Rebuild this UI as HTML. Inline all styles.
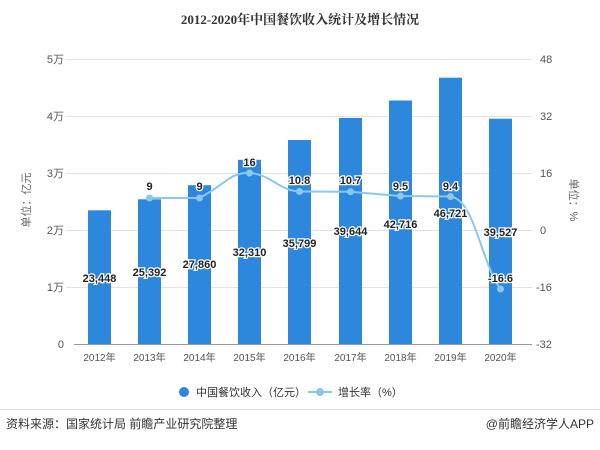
<!DOCTYPE html>
<html><head><meta charset="utf-8"><style>
body{margin:0;width:600px;height:445px;background:#fff;overflow:hidden}
svg text{font-family:"Liberation Sans","Noto Sans CJK SC",sans-serif}
</style></head><body>
<svg width="600" height="445" viewBox="0 0 600 445">
<text x="300" y="24" text-anchor="middle" font-size="13" font-weight="bold" fill="#333" style="font-family:'Liberation Serif','Noto Serif CJK SC',serif">2012-2020年中国餐饮收入统计及增长情况</text>
<g stroke="#e3e3e3" stroke-width="1">
<line x1="66" y1="59.5" x2="532" y2="59.5"/><line x1="66" y1="116.5" x2="532" y2="116.5"/>
<line x1="66" y1="173.5" x2="532" y2="173.5"/><line x1="66" y1="230.5" x2="532" y2="230.5"/>
<line x1="66" y1="287.5" x2="532" y2="287.5"/></g>
<line x1="74" y1="344.5" x2="532" y2="344.5" stroke="#999"/>
<g font-size="11" fill="#555" text-anchor="end">
<text x="64" y="63">5万</text><text x="64" y="120">4万</text><text x="64" y="177">3万</text>
<text x="64" y="234">2万</text><text x="64" y="291">1万</text><text x="64" y="348">0</text></g>
<g font-size="11" fill="#555" text-anchor="start">
<text x="540" y="63">48</text><text x="540" y="120">32</text><text x="540" y="177">16</text>
<text x="540" y="234">0</text><text x="536" y="291">-16</text><text x="536" y="348">-32</text></g>
<text transform="translate(30,200) rotate(-90)" font-size="11" fill="#666" text-anchor="middle">单位：亿元</text>
<text transform="translate(570,200) rotate(90)" font-size="11" fill="#666" text-anchor="middle">单位：%</text>
<g fill="#2d87dc">
<rect x="88" y="210.3" width="23" height="133.7"/>
<rect x="138" y="199.3" width="23" height="144.7"/>
<rect x="188" y="185.2" width="23" height="158.8"/>
<rect x="238" y="159.8" width="23" height="184.2"/>
<rect x="288" y="140" width="23" height="204"/>
<rect x="339" y="118" width="23" height="226"/>
<rect x="389" y="100.5" width="23" height="243.5"/>
<rect x="439" y="77.7" width="23" height="266.3"/>
<rect x="489" y="118.7" width="23" height="225.3"/>
</g>
<g font-size="10" fill="#555" text-anchor="middle">
<text x="99.5" y="361">2012年</text><text x="149.5" y="361">2013年</text><text x="199.5" y="361">2014年</text>
<text x="249.5" y="361">2015年</text><text x="299.5" y="361">2016年</text><text x="350.5" y="361">2017年</text>
<text x="400.5" y="361">2018年</text><text x="450.5" y="361">2019年</text><text x="500.5" y="361">2020年</text></g>
<path d="M149.5,198 L199.5,198 C225,185 230,172 249.5,173 C270,174 280,191 299.5,191.5 L350.5,191.8 L400.5,196 L450.5,196.5 C475,200 480,260 500.5,289" fill="none" stroke="#8cc8ee" stroke-width="2"/>
<g fill="#8cc8ee">
<circle cx="149.5" cy="198" r="3.5"/><circle cx="199.5" cy="198" r="3.5"/><circle cx="249.5" cy="173" r="3.5"/>
<circle cx="299.5" cy="191.5" r="3.5"/><circle cx="350.5" cy="191.8" r="3.5"/><circle cx="400.5" cy="196" r="3.5"/>
<circle cx="450.5" cy="196.5" r="3.5"/><circle cx="500.5" cy="289" r="3.5"/></g>
<g font-size="11" font-weight="bold" fill="#222" text-anchor="middle" stroke="#fff" stroke-width="2.5" paint-order="stroke">
<text x="99.5" y="282">23,448</text><text x="149.5" y="276">25,392</text><text x="199.5" y="268">27,860</text>
<text x="249.5" y="256">32,310</text><text x="299.5" y="247">35,799</text><text x="350.5" y="235">39,644</text>
<text x="400.5" y="228">42,716</text><text x="450.5" y="217">46,721</text><text x="500.5" y="236">39,527</text>
<text x="149.5" y="190">9</text><text x="199.5" y="190">9</text><text x="249.5" y="166">16</text>
<text x="299.5" y="184">10.8</text><text x="350.5" y="184">10.7</text><text x="400.5" y="190">9.5</text>
<text x="450.5" y="190">9.4</text><text x="500.5" y="282">-16.6</text></g>
<circle cx="184" cy="392" r="5" fill="#2d87dc"/>
<text x="196" y="396" font-size="11" fill="#333">中国餐饮收入（亿元）</text>
<line x1="308" y1="392" x2="332" y2="392" stroke="#8cc8ee" stroke-width="2"/>
<circle cx="320" cy="392" r="4" fill="#8cc8ee"/>
<text x="338" y="396" font-size="11" fill="#333">增长率（%）</text>
<line x1="0" y1="409.5" x2="600" y2="409.5" stroke="#ddd"/>
<text x="6" y="428" font-size="12" fill="#333">资料来源：国家统计局 前瞻产业研究院整理</text>
<text x="594" y="428" font-size="12" fill="#333" text-anchor="end">@前瞻经济学人APP</text>
</svg>
</body></html>
